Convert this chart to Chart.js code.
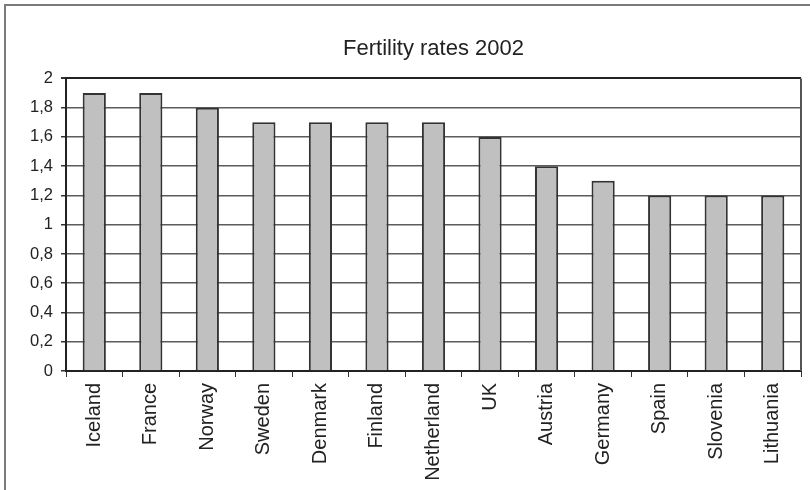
<!DOCTYPE html>
<html>
<head>
<meta charset="utf-8">
<title>Fertility rates 2002</title>
<script src="https://cdn.jsdelivr.net/npm/chart.js@4/dist/chart.umd.min.js"></script>
<style>
  html, body { margin: 0; padding: 0; background: #ffffff; }
  #wrap { width: 810px; height: 490px; }
</style>
</head>
<body>
<div id="wrap"><canvas id="c" width="810" height="490"></canvas></div>
<script>
// Countries and their total fertility rate in 2002
const countries = ['Iceland', 'France', 'Norway', 'Sweden', 'Denmark', 'Finland',
  'Netherland', 'UK', 'Austria', 'Germany', 'Spain', 'Slovenia', 'Lithuania'];
const fertility = [1.9, 1.9, 1.8, 1.7, 1.7, 1.7, 1.7, 1.6, 1.4, 1.3, 1.2, 1.2, 1.2];

// Value axis: labels written with a decimal comma
const yTickValues = [0, 0.2, 0.4, 0.6, 0.8, 1, 1.2, 1.4, 1.6, 1.8, 2];
const yTickLabels = ['0', '0,2', '0,4', '0,6', '0,8', '1', '1,2', '1,4', '1,6', '1,8', '2'];

const FONT = "'Liberation Sans', Arial, Helvetica, sans-serif";

// Frame around the whole chart plus the right edge of the plot area
const framePlugin = {
  id: 'frame',
  beforeDraw(chart) {
    const ctx = chart.ctx;
    ctx.save();
    ctx.fillStyle = '#ffffff';
    ctx.fillRect(0, 0, chart.width, chart.height);
    ctx.strokeStyle = '#7a7a7a';
    ctx.lineWidth = 2;
    ctx.strokeRect(5, 5, chart.width + 10, chart.height + 10);
    ctx.restore();
  },
  afterDraw(chart) {
    const a = chart.chartArea;
    const ctx = chart.ctx;
    ctx.save();
    ctx.strokeStyle = '#555555';
    ctx.lineWidth = 2;
    ctx.beginPath();
    ctx.moveTo(a.right, a.top);
    ctx.lineTo(a.right, a.bottom);
    ctx.stroke();
    ctx.restore();
  }
};

new Chart(document.getElementById('c'), {
  type: 'bar',
  data: {
    labels: countries,
    datasets: [{
      data: fertility,
      backgroundColor: '#c0c0c0',
      borderColor: '#333333',
      borderWidth: 2,
      borderSkipped: 'start',
      categoryPercentage: 1,
      barPercentage: 0.41
    }]
  },
  options: {
    responsive: false,
    animation: false,
    layout: { padding: { top: 32, right: 9, bottom: 0, left: 0 } },
    plugins: {
      legend: { display: false },
      tooltip: { enabled: false },
      title: {
        display: true,
        text: 'Fertility rates 2002',
        fullSize: false,
        color: '#222222',
        font: { family: FONT, size: 22, weight: 'normal' },
        padding: { top: 4, bottom: 16 }
      }
    },
    scales: {
      x: {
        grid: {
          display: true,
          drawOnChartArea: false,
          drawTicks: true,
          tickLength: 6,
          color: '#333333',
          lineWidth: 1
        },
        border: { display: true, color: '#222222', width: 2 },
        ticks: {
          autoSkip: false,
          minRotation: 90,
          maxRotation: 90,
          padding: 6,
          color: '#222222',
          font: { family: FONT, size: 20 }
        },
        afterFit(scale) { scale.height = 119; }
      },
      y: {
        min: 0,
        max: 2,
        afterBuildTicks(scale) {
          scale.ticks = yTickValues.map(v => ({ value: v }));
        },
        grid: {
          color: ctx => (ctx.tick && ctx.tick.value === 2 ? '#222222' : '#5c5c5c'),
          lineWidth: ctx => (ctx.tick && ctx.tick.value === 2 ? 2 : 1.5),
          drawTicks: true,
          tickLength: 5,
          tickColor: '#333333'
        },
        border: { display: true, color: '#222222', width: 2 },
        ticks: {
          padding: 8,
          color: '#222222',
          font: { family: FONT, size: 16.5 },
          callback(value, index) { return yTickLabels[index]; }
        },
        afterFit(scale) { scale.width = 66; }
      }
    }
  },
  plugins: [framePlugin]
});
</script>
</body>
</html>
